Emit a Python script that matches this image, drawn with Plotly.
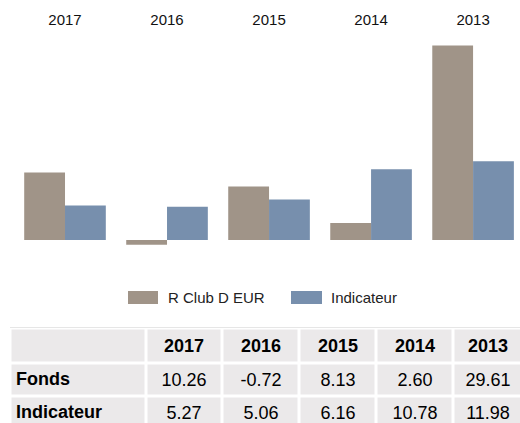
import plotly.graph_objects as go

years = ["2017", "2016", "2015", "2014", "2013"]
fonds = [10.26, -0.72, 8.13, 2.60, 29.61]
indicateur = [5.27, 5.06, 6.16, 10.78, 11.98]
series_names = ["R Club D EUR", "Indicateur"]
row_labels = ["Fonds", "Indicateur"]

C_FONDS = "#a09488"
C_IND = "#778fad"
C_CELL = "#ebe9ea"
W, H = 520, 423
FONT = "Liberation Sans, Arial, sans-serif"

fig = go.Figure()
fig.add_trace(go.Bar(x=years, y=fonds, name=series_names[0], marker=dict(color=C_FONDS, line=dict(width=0)),
                     showlegend=False, hoverinfo="skip"))
fig.add_trace(go.Bar(x=years, y=indicateur, name=series_names[1], marker=dict(color=C_IND, line=dict(width=0)),
                     showlegend=False, hoverinfo="skip"))

def fmt(v):
    return f"{v:.2f}"

# ---- table drawn as a heatmap grid (pixel-unit axes x2/y2) ----
col_edges = [10.5, 146, 222.5, 299.5, 376.5, 453.5, 522]
row_edges = [328.5, 363.5, 396.5, 429.5]
cell_text = [
    [""] + [f"<b>{y}</b>" for y in years],
    [""] + [fmt(v) for v in fonds],
    [""] + [fmt(v) for v in indicateur],
]
fig.add_trace(go.Heatmap(
    x=col_edges, y=row_edges, z=[[0] * 6 for _ in range(3)],
    colorscale=[[0, C_CELL], [1, C_CELL]], showscale=False,
    xgap=3, ygap=3, text=cell_text, texttemplate="%{text}",
    textfont=dict(family=FONT, size=18, color="black"),
    hoverinfo="skip", xaxis="x2", yaxis="y2",
))
row_centers = [(row_edges[i] + row_edges[i + 1]) / 2 for i in (1, 2)]
fig.add_trace(go.Scatter(
    x=[16, 16], y=row_centers, mode="text", text=[f"<b>{r}</b>" for r in row_labels],
    textposition="middle right", textfont=dict(family=FONT, size=18, color="black"),
    hoverinfo="skip", showlegend=False, xaxis="x2", yaxis="y2",
))
fig.add_shape(type="line", xref="x2", yref="y2", x0=10, x1=520, y0=327.5, y1=327.5,
              line=dict(color="#e6e6e6", width=1))

# legend swatches and labels
legend_items = [(128, 158, 166, C_FONDS, series_names[0]), (291, 322, 329, C_IND, series_names[1])]
for x0, x1, tx, col, name in legend_items:
    fig.add_shape(type="rect", xref="paper", yref="paper",
                  x0=x0 / W, x1=x1 / W, y0=1 - 304 / H, y1=1 - 291 / H,
                  fillcolor=col, line=dict(width=0))
    fig.add_annotation(xref="paper", yref="paper", x=tx / W, y=1 - 297.5 / H,
                       text=name, showarrow=False, xanchor="left", yanchor="middle",
                       font=dict(family=FONT, size=15, color="#222222"))

ppu = 6.57
top_px, bot_px, zero_px = 29, 262, 240
fig.update_layout(
    width=W, height=H,
    margin=dict(l=0, r=0, t=0, b=0),
    paper_bgcolor="white", plot_bgcolor="rgba(0,0,0,0)",
    barmode="group", bargap=0.2, bargroupgap=0,
    font=dict(family=FONT),
    showlegend=False,
    xaxis=dict(domain=[14 / W, 1], side="top", range=[-0.5, 4.46], showgrid=False,
               showline=False, ticks="", fixedrange=True,
               tickfont=dict(family=FONT, size=15, color="#111111")),
    yaxis=dict(domain=[1 - bot_px / H, 1 - top_px / H],
               range=[-(bot_px - zero_px) / ppu, (zero_px - top_px) / ppu],
               visible=False, showgrid=False, zeroline=False, fixedrange=True),
    xaxis2=dict(domain=[0, 1], range=[0, W], visible=False, anchor="y2", fixedrange=True),
    yaxis2=dict(domain=[0, 1 - 320 / H], range=[H, 320], visible=False, anchor="x2", fixedrange=True),
)
fig.write_html("out.html", config={"displayModeBar": False},
               post_script="document.body.style.margin='0';document.body.style.overflow='hidden';")
